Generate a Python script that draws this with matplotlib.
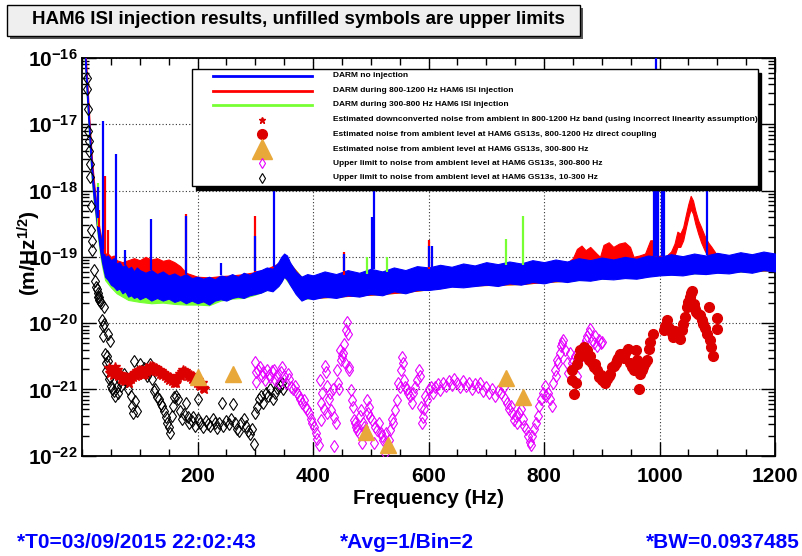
import numpy as np
import matplotlib
matplotlib.use("Agg")
import matplotlib.pyplot as plt
from matplotlib.patches import Rectangle
from matplotlib.lines import Line2D
from matplotlib.ticker import FixedLocator, MultipleLocator, LogLocator, NullFormatter, FuncFormatter

plt.rcParams['font.family'] = ['Liberation Sans', 'DejaVu Sans']
plt.rcParams['font.weight'] = 'bold'
plt.rcParams['mathtext.fontset'] = 'custom'
plt.rcParams['mathtext.rm'] = 'Liberation Sans:bold'
plt.rcParams['mathtext.it'] = 'Liberation Sans:bold'
plt.rcParams['mathtext.bf'] = 'Liberation Sans:bold'

# ---------------- data (log10 of amplitude, m/Hz^1/2) ----------------
# DARM spectra: (frequency Hz, upper envelope, lower envelope)
BLUE_BAND = [
    (4, -15.6, -15.8), (6, -16.0, -16.2), (8, -16.3, -16.5), (11, -16.75, -16.95),
    (14, -17.2, -17.4), (17, -17.6, -17.8), (20, -17.9, -18.1), (23, -18.1, -18.3),
    (26, -18.35, -18.55), (29, -18.55, -18.75), (32, -18.7, -18.95), (35, -18.85, -19.1),
    (40, -19.0, -19.3), (45, -18.98, -19.35), (50, -19.05, -19.42), (55, -19.02, -19.45),
    (60, -19.1, -19.5), (65, -19.08, -19.48), (70, -19.15, -19.55), (75, -19.12, -19.52),
    (80, -19.18, -19.6), (85, -19.15, -19.58), (90, -19.22, -19.62), (95, -19.16, -19.6),
    (100, -19.2, -19.64), (110, -19.24, -19.6), (120, -19.2, -19.66), (130, -19.26, -19.62),
    (140, -19.22, -19.66), (150, -19.28, -19.63), (160, -19.25, -19.68), (170, -19.3, -19.65),
    (180, -19.26, -19.7), (190, -19.32, -19.66), (200, -19.3, -19.7), (210, -19.33, -19.67),
    (220, -19.3, -19.72), (230, -19.34, -19.66), (240, -19.28, -19.64), (250, -19.3, -19.66),
    (260, -19.26, -19.62), (270, -19.3, -19.6), (280, -19.24, -19.62), (290, -19.27, -19.58),
    (300, -19.22, -19.56), (310, -19.2, -19.54), (320, -19.16, -19.5), (330, -19.18, -19.52),
    (340, -19.08, -19.44), (345, -19.0, -19.38), (350, -18.95, -19.3), (355, -18.98, -19.34),
    (360, -19.08, -19.42), (370, -19.22, -19.56), (380, -19.3, -19.66), (390, -19.26, -19.62),
    (400, -19.28, -19.64), (420, -19.22, -19.6), (440, -19.26, -19.62), (460, -19.2, -19.58),
    (480, -19.24, -19.6), (500, -19.18, -19.56), (520, -19.22, -19.58), (540, -19.16, -19.52),
    (560, -19.2, -19.55), (580, -19.14, -19.5), (600, -19.16, -19.5), (620, -19.12, -19.48),
    (640, -19.15, -19.45), (660, -19.1, -19.46), (680, -19.13, -19.44), (700, -19.08, -19.42),
    (720, -19.11, -19.44), (740, -19.07, -19.4), (760, -19.1, -19.42), (780, -19.05, -19.38),
    (800, -19.08, -19.4), (820, -19.04, -19.36), (840, -19.07, -19.38), (860, -19.02, -19.35),
    (880, -19.05, -19.36), (900, -19.01, -19.33), (920, -19.04, -19.34), (940, -19.0, -19.32),
    (960, -19.03, -19.33), (980, -18.98, -19.3), (1000, -19.0, -19.28), (1020, -18.96, -19.27),
    (1040, -18.99, -19.28), (1060, -18.95, -19.25), (1080, -18.98, -19.26), (1100, -18.94, -19.24),
    (1120, -18.97, -19.25), (1140, -18.93, -19.22), (1160, -18.96, -19.24), (1180, -18.92, -19.2),
    (1200, -18.95, -19.22),
]
RED_BAND = [
    (4, -15.5, -15.7), (6, -15.9, -16.1), (8, -16.2, -16.4), (11, -16.65, -16.85),
    (14, -17.1, -17.3), (17, -17.5, -17.7), (20, -17.8, -18.0), (23, -18.05, -18.25),
    (26, -18.3, -18.5), (29, -18.5, -18.7), (32, -18.65, -18.9), (35, -18.8, -19.05),
    (40, -18.95, -19.25), (45, -18.95, -19.3), (50, -19.0, -19.38), (55, -18.98, -19.4),
    (60, -19.05, -19.45), (70, -19.08, -19.5), (80, -19.05, -19.5), (90, -19.02, -19.52),
    (100, -19.05, -19.5), (110, -19.0, -19.5), (120, -19.04, -19.52), (130, -19.02, -19.5),
    (140, -19.06, -19.52), (150, -19.04, -19.55), (160, -19.08, -19.55), (170, -19.14, -19.6),
    (180, -19.24, -19.62), (200, -19.3, -19.66), (220, -19.31, -19.68), (240, -19.29, -19.62),
    (260, -19.28, -19.6), (280, -19.26, -19.58), (300, -19.23, -19.54), (320, -19.18, -19.48),
    (340, -19.1, -19.42), (350, -18.97, -19.28), (360, -19.1, -19.4), (380, -19.31, -19.62),
    (400, -19.3, -19.62), (440, -19.28, -19.6), (480, -19.26, -19.58), (520, -19.24, -19.56),
    (560, -19.22, -19.53), (600, -19.18, -19.49), (640, -19.17, -19.44), (680, -19.15, -19.43),
    (720, -19.13, -19.42), (760, -19.12, -19.41), (800, -19.1, -19.38), (840, -19.09, -19.36),
    (850, -19.02, -19.35), (857, -18.88, -19.33), (865, -18.83, -19.3), (872, -18.9, -19.32),
    (880, -18.85, -19.3), (891, -18.95, -19.3), (897, -19.0, -19.32), (903, -18.82, -19.3),
    (912, -18.78, -19.28), (920, -18.85, -19.3), (930, -18.8, -19.28), (940, -18.78, -19.28),
    (949, -18.85, -19.28), (955, -19.0, -19.28), (965, -18.98, -19.28), (975, -18.95, -19.26),
    (984, -18.75, -19.25), (990, -18.75, -19.25), (995, -18.98, -19.26), (1010, -19.0, -19.26),
    (1020, -18.92, -19.24), (1026, -18.8, -18.98), (1031, -18.62, -18.85), (1036, -18.65, -18.85),
    (1041, -18.55, -18.75), (1046, -18.35, -18.55), (1050, -18.2, -18.4), (1054, -18.08, -18.28),
    (1058, -18.15, -18.35), (1062, -18.3, -18.5), (1067, -18.45, -18.65), (1072, -18.55, -18.78),
    (1078, -18.68, -18.9), (1084, -18.78, -19.0), (1090, -18.85, -19.22), (1100, -18.98, -19.22),
    (1120, -19.0, -19.22), (1160, -18.99, -19.21), (1200, -18.98, -19.2),
]
GREEN_BAND = [
    (4, -15.7, -15.9), (6, -16.05, -16.25), (8, -16.35, -16.55), (11, -16.8, -17.0),
    (14, -17.25, -17.45), (17, -17.65, -17.85), (20, -17.95, -18.15), (23, -18.15, -18.35),
    (26, -18.4, -18.6), (29, -18.6, -18.8), (32, -18.75, -19.0), (35, -18.9, -19.15),
    (40, -19.05, -19.35), (50, -19.1, -19.46), (60, -19.15, -19.55), (70, -19.2, -19.6),
    (80, -19.22, -19.65), (100, -19.25, -19.68), (120, -19.26, -19.7), (140, -19.28, -19.69),
    (160, -19.3, -19.71), (180, -19.3, -19.72), (200, -19.33, -19.72), (220, -19.32, -19.73),
    (240, -19.3, -19.66), (260, -19.3, -19.63), (280, -19.28, -19.62), (300, -19.25, -19.57),
    (320, -19.2, -19.5), (340, -19.12, -19.44), (350, -19.0, -19.3), (360, -19.1, -19.42),
    (380, -19.3, -19.64), (400, -19.3, -19.62), (440, -19.28, -19.6), (480, -19.26, -19.58),
    (520, -19.24, -19.56), (560, -19.22, -19.53), (600, -19.18, -19.49), (640, -19.16, -19.44),
    (680, -19.14, -19.43), (720, -19.12, -19.42), (760, -19.12, -19.41), (800, -19.1, -19.38),
    (840, -19.08, -19.36), (880, -19.06, -19.34), (920, -19.05, -19.32), (960, -19.04, -19.31),
    (1000, -19.02, -19.27), (1040, -19.0, -19.26), (1080, -18.99, -19.24), (1120, -18.98, -19.23),
    (1160, -18.97, -19.22), (1200, -18.96, -19.2),
]
# narrow lines: (frequency Hz, peak log10)
BLUE_SPIKES = [(27, -17.95), (36, -16.95), (59, -17.45), (75, -18.9), (119, -18.43),
               (180, -18.38), (240, -19.1), (300, -18.68), (332, -17.5), (453, -18.95),
               (502, -18.4), (505, -17.5), (600, -18.83), (606, -18.83), (990, -17.4),
               (994, -15.9), (998, -17.4), (1004, -17.4), (1008, -17.4), (1082, -17.4)]
RED_SPIKES = [(30, -18.3), (40, -17.78), (45, -18.6), (180, -18.35), (300, -18.39),
              (453, -18.93), (600, -18.75)]
GREEN_SPIKES = [(28, -17.88), (493, -19.0), (528, -19.0), (734, -18.73), (764, -18.38)]

# Upper limits 10-300 Hz (black open diamonds)
BLACK_F = [8, 9, 10, 10, 12, 12, 13, 13, 15, 16, 17, 17, 20, 23, 24, 26, 27, 28, 29, 30,
           32, 33, 35, 36, 36, 38, 38, 40, 41, 42, 44, 45, 45, 47, 48, 48, 50, 52, 55, 58,
           60, 62, 66, 68, 72, 75, 78, 80, 84, 86, 88, 90, 92, 95, 100, 103, 107, 110, 113, 116,
           118, 121, 124, 127, 130, 133, 136, 139, 142, 145, 148, 150, 152, 155, 157, 160, 163, 166, 170, 173,
           176, 180, 183, 186, 190, 193, 196, 200, 201, 205, 210, 214, 218, 222, 226, 230, 234, 238, 242, 245,
           250, 254, 258, 262, 265, 268, 272, 276, 280, 284, 288, 291, 294, 298, 300, 303, 306, 310, 314, 318,
           322, 326, 330, 334, 338, 342, 346, 348]
BLACK_LOG = [-16.47, -16.3, -16.77, -17.1, -17.25, -17.4, -17.6, -17.8, -18.23, -18.6, -18.76, -18.9, -19.2, -19.36, -19.45, -19.49, -19.55, -19.6, -19.61, -19.65,
             -19.66, -19.7, -19.96, -20.05, -20.2, -19.76, -20.01, -20.47, -20.6, -20.72, -20.5, -20.17, -20.57, -20.85, -20.27, -20.82, -20.95, -21.0, -21.02, -21.1,
             -20.97, -21.05, -20.87, -20.95, -20.77, -20.85, -20.87, -21.0, -21.1, -21.25, -21.35, -20.57, -21.17, -21.32, -20.62, -20.72, -20.67, -20.75, -20.8, -20.7,
             -20.62, -20.85, -21.02, -21.0, -21.12, -21.15, -21.22, -21.25, -21.32, -21.42, -21.5, -21.57, -21.65, -21.4, -21.25, -21.12, -21.1, -21.15, -21.32, -21.45,
             -21.37, -21.2, -21.42, -21.5, -21.47, -21.42, -21.55, -21.45, -21.15, -21.5, -21.57, -21.48, -21.52, -21.55, -21.45, -21.5, -21.58, -21.5, -21.2, -21.55,
             -21.48, -21.52, -21.45, -21.22, -21.5, -21.6, -21.62, -21.5, -21.45, -21.55, -21.62, -21.67, -21.6, -21.82, -21.35, -21.27, -21.15, -21.1, -21.2, -21.05,
             -21.1, -21.0, -21.15, -21.05, -20.98, -20.95, -20.9, -21.0]

# Upper limits 300-800 Hz (magenta open diamonds)
MAG_F = [300, 301, 302, 305, 308, 311, 314, 317, 320, 323, 326, 329, 332, 335, 338, 341, 344, 347, 350, 353,
         356, 359, 362, 365, 368, 372, 375, 378, 381, 384, 387, 390, 393, 396, 399, 402, 405, 407, 410, 412,
         413, 414, 416, 419, 421, 422, 424, 425, 427, 430, 432, 434, 436, 437, 439, 441, 443, 445, 447, 448,
         450, 452, 453, 455, 457, 459, 460, 462, 463, 465, 467, 469, 471, 473, 475, 477, 479, 481, 483, 484,
         486, 488, 490, 493, 495, 497, 499, 502, 505, 508, 511, 514, 517, 520, 522, 525, 527, 529, 531, 534,
         537, 539, 542, 545, 548, 550, 552, 554, 556, 558, 560, 562, 565, 568, 571, 574, 577, 580, 583, 585,
         587, 588, 590, 592, 594, 597, 600, 604, 608, 612, 616, 620, 625, 630, 635, 640, 645, 650, 655, 660,
         665, 670, 675, 680, 685, 690, 695, 700, 705, 710, 715, 720, 725, 730, 733, 736, 739, 742, 745, 748,
         751, 754, 757, 760, 763, 766, 769, 772, 775, 777, 780, 783, 786, 789, 792, 795, 798, 801, 804, 807,
         810, 813, 816, 819, 821, 823, 825, 827, 829, 831, 833, 836, 839, 842, 845, 848, 851, 854, 857, 860,
         864, 868, 872, 875, 878, 880, 883, 886, 889, 892, 895, 898, 900]
MAG_LOG = [-20.59, -20.74, -20.89, -20.7, -20.66, -20.8, -20.74, -20.86, -20.7, -20.78, -20.82, -20.72, -20.7, -20.86, -20.78, -20.9, -20.74, -20.66, -20.8, -20.9,
           -20.76, -20.85, -20.96, -21.0, -20.95, -21.06, -21.1, -21.15, -21.2, -21.16, -21.26, -21.3, -21.36, -21.45, -21.51, -21.56, -21.66, -21.75, -21.84, -20.86,
           -21.2, -21.46, -21.05, -21.3, -20.64, -20.74, -20.95, -21.36, -21.15, -21.06, -21.31, -21.0, -21.86, -21.41, -21.51, -20.71, -20.9, -21.0, -20.41, -20.56,
           -20.5, -20.45, -20.31, -20.6, -20.1, -19.98, -20.16, -20.66, -20.71, -21.01, -21.16, -21.26, -21.46, -21.51, -21.56, -21.61, -21.66, -21.4, -21.31, -21.81,
           -21.5, -21.56, -21.61, -21.16, -21.36, -21.26, -21.41, -21.46, -21.81, -21.56, -21.61, -21.51, -21.66, -21.7, -21.76, -21.96, -21.66, -21.81, -21.76, -21.61,
           -21.45, -21.51, -21.31, -21.16, -20.9, -20.96, -20.71, -20.51, -20.6, -20.86, -20.96, -21.0, -21.06, -21.1, -21.2, -21.06, -20.96, -20.86, -20.7, -20.8,
           -21.26, -21.5, -21.41, -21.3, -21.1, -21.16, -21.0, -20.97, -21.06, -20.96, -20.92, -21.01, -20.9, -20.95, -20.87, -20.93, -20.85, -20.9, -20.96, -20.88,
           -20.95, -20.9, -21.0, -20.92, -20.97, -20.9, -21.02, -20.96, -21.06, -21.0, -21.1, -21.02, -21.06, -20.96, -21.15, -21.2, -21.3, -21.25, -21.36, -21.46,
           -21.4, -21.5, -21.35, -21.3, -21.45, -21.55, -21.6, -21.7, -21.8, -21.84, -21.7, -21.6, -21.5, -21.4, -21.25, -21.15, -21.05, -20.95, -21.1, -21.05,
           -21.15, -21.25, -20.9, -20.7, -20.8, -20.55, -20.6, -20.45, -20.35, -20.3, -20.26, -20.4, -20.6, -20.75, -20.45, -20.6, -20.7, -20.5, -20.8, -20.55,
           -20.4, -20.35, -20.25, -20.2, -20.15, -20.09, -20.25, -20.3, -20.2, -20.35, -20.25, -20.3, -20.28]

# Estimated downconverted noise, 800-1200 Hz band (red stars)
STAR_F = list(range(47, 212, 2))
STAR_LOG = [-20.68, -20.75, -20.7, -20.78, -20.72, -20.66, -20.74, -20.7, -20.8, -20.76, -20.84, -20.8, -20.86, -20.82, -20.88, -20.82, -20.85, -20.9, -20.8, -20.85,
            -20.78, -20.82, -20.75, -20.8, -20.72, -20.78, -20.7, -20.75, -20.7, -20.78, -20.72, -20.76, -20.68, -20.74, -20.7, -20.65, -20.72, -20.64, -20.7, -20.66,
            -20.72, -20.68, -20.74, -20.7, -20.76, -20.72, -20.78, -20.75, -20.8, -20.78, -20.83, -20.8, -20.86, -20.82, -20.88, -20.85, -20.9, -20.86, -20.9, -20.84,
            -20.8, -20.76, -20.8, -20.74, -20.7, -20.75, -20.72, -20.76, -20.8, -20.76, -20.82, -20.78, -20.84, -20.8, -20.86, -20.84, -20.9, -20.86, -20.92, -20.95,
            -20.9, -20.98, -21.0]

# Estimated noise, 800-1200 Hz direct coupling (red filled circles)
CIRC_F = [849, 849, 852, 855, 857, 860, 863, 866, 869, 872, 875, 878, 880, 883, 886, 889, 892, 895, 898, 901,
          904, 906, 909, 912, 915, 918, 921, 924, 926, 929, 932, 935, 938, 941, 945, 949, 952, 955, 958, 960,
          961, 964, 967, 970, 972, 975, 978, 981, 984, 988, 1008, 1010, 1013, 1016, 1018, 1021, 1024, 1027, 1030, 1033,
          1036, 1039, 1041, 1044, 1047, 1050, 1052, 1054, 1056, 1059, 1062, 1064, 1067, 1070, 1073, 1076, 1079, 1082, 1085, 1087,
          1090, 1093, 1099, 1099]
CIRC_LOG = [-20.71, -20.86, -21.07, -20.91, -20.61, -20.51, -20.41, -20.45, -20.36, -20.4, -20.4, -20.56, -20.5, -20.6, -20.66, -20.62, -20.71, -20.81, -20.78, -20.86,
            -20.88, -20.91, -20.84, -20.8, -20.76, -20.66, -20.64, -20.6, -20.56, -20.52, -20.46, -20.5, -20.52, -20.45, -20.39, -20.6, -20.66, -20.71, -20.62, -20.41,
            -20.55, -20.99, -20.76, -20.7, -20.66, -20.6, -20.56, -20.39, -20.29, -20.16, -20.1, -20.04, -19.96, -20.08, -20.1, -20.15, -20.21, -20.12, -20.18, -20.14,
            -20.24, -20.1, -20.01, -19.9, -19.76, -19.68, -19.61, -19.55, -19.51, -19.71, -19.78, -19.83, -19.86, -19.88, -19.95, -20.01, -20.08, -20.16, -19.76, -20.26,
            -20.36, -20.49, -19.93, -20.09]

# Estimated noise 300-800 Hz (orange triangles)
TRI_F = [200, 262, 492, 530, 735, 764]
TRI_LOG = [-20.81, -20.77, -21.64, -21.84, -20.83, -21.12]

# ---------------- colours ----------------
C_BLUE = '#0000ff'
C_RED = '#ff0000'
C_GREEN = '#77ff33'
C_CIRC = '#dd0000'
C_MAG = '#e600ff'
C_ORANGE = '#e9a83a'

fig = plt.figure(figsize=(8.02, 5.56), dpi=100)
ax = fig.add_axes([82 / 802, 1 - 455.7 / 556, 693 / 802, 397.7 / 556])
ax.set_xlim(0, 1200)
ax.set_yscale('log')
ax.set_ylim(1e-22, 1e-16)


def band(rows, color, z):
    f, hi, lo = (np.array(c, dtype=float) for c in zip(*rows))
    ax.fill_between(f, 10 ** lo, 10 ** hi, facecolor=color, edgecolor=color, lw=0.8, zorder=z)
    return f, hi


def spikes(rows, bf, bhi, color, z, lw=1.6):
    f, pk = (np.array(c, dtype=float) for c in zip(*rows))
    base = np.interp(f, bf, bhi)
    ax.vlines(f, 10 ** base, 10 ** pk, colors=color, lw=lw, zorder=z)


gf, ghi = band(GREEN_BAND, C_GREEN, 2)
rf, rhi = band(RED_BAND, C_RED, 3)
bf, bhi = band(BLUE_BAND, C_BLUE, 4)
spikes(GREEN_SPIKES, gf, ghi, C_GREEN, 5)
spikes(RED_SPIKES, rf, rhi, C_RED, 5)
spikes(BLUE_SPIKES, bf, bhi, C_BLUE, 6)

ax.plot(BLACK_F, 10 ** np.array(BLACK_LOG), ls='none', marker='d', ms=6, mfc='none',
        mec='black', mew=0.8, zorder=7)
ax.plot(MAG_F, 10 ** np.array(MAG_LOG), ls='none', marker='d', ms=6, mfc='none',
        mec=C_MAG, mew=0.8, zorder=7)
ax.plot(STAR_F, 10 ** np.array(STAR_LOG), ls='none', marker='*', ms=7, color=C_CIRC,
        mec=C_CIRC, zorder=8)
ax.plot(CIRC_F, 10 ** np.array(CIRC_LOG), ls='none', marker='o', ms=7, color=C_CIRC,
        mec=C_CIRC, zorder=8)
ax.plot(TRI_F, 10 ** np.array(TRI_LOG), ls='none', marker='^', ms=11, color=C_ORANGE,
        mec=C_ORANGE, zorder=9)

# ---------------- axes styling ----------------
ax.xaxis.set_major_locator(FixedLocator([200, 400, 600, 800, 1000, 1200]))
ax.xaxis.set_minor_locator(MultipleLocator(50))
ax.yaxis.set_major_locator(LogLocator(base=10, numticks=20))
ax.yaxis.set_minor_locator(LogLocator(base=10, subs=np.arange(2, 10), numticks=20))
ax.yaxis.set_minor_formatter(NullFormatter())
ax.yaxis.set_major_formatter(FuncFormatter(lambda v, p: r'$10^{%d}$' % round(np.log10(v))))
ax.tick_params(which='both', direction='in', top=True, right=True, labelsize=15)
ax.tick_params(which='major', length=10, width=1)
ax.tick_params(which='minor', length=5, width=1)
ax.tick_params(axis='x', pad=8)
ax.tick_params(axis='y', pad=3)
for lab in ax.get_xticklabels() + ax.get_yticklabels():
    lab.set_fontweight('bold')
ax.grid(True, which='major', ls=(0, (1, 2)), color='#333333', lw=0.8)
ax.set_axisbelow(True)
for s in ax.spines.values():
    s.set_linewidth(1.3)

# ---------------- legend (drawn as a box like the original) ----------------
lx0, ly0, lw_, lh = 0.159, 0.678, 0.816, 0.294
ax.add_patch(Rectangle((lx0 + 0.005, ly0 - 0.009), lw_, lh, transform=ax.transAxes,
                       fc='black', ec='black', zorder=20, clip_on=False))
ax.add_patch(Rectangle((lx0, ly0), lw_, lh, transform=ax.transAxes,
                       fc='white', ec='black', lw=1.0, zorder=21, clip_on=False))
LEG_LABELS = [
    'DARM no injection',
    'DARM during 800-1200 Hz HAM6 ISI injection',
    'DARM during 300-800 Hz HAM6 ISI injection',
    'Estimated downconverted noise from ambient in 800-1200 Hz band (using incorrect linearity assumption)',
    'Estimated noise from ambient level at HAM6 GS13s, 800-1200 Hz direct coupling',
    'Estimated noise from ambient level at HAM6 GS13s, 300-800 Hz',
    'Upper limit to noise from ambient level at HAM6 GS13s, 300-800 Hz',
    'Upper limit to noise from ambient level at HAM6 GS13s, 10-300 Hz',
]
rows_y = [0.9555, 0.9178, 0.8826, 0.8449, 0.8088, 0.7711, 0.7359, 0.6990]
styles = [
    dict(color=C_BLUE, lw=2),
    dict(color=C_RED, lw=2),
    dict(color=C_GREEN, lw=2),
    dict(ls='none', marker='*', ms=5, color=C_CIRC),
    dict(ls='none', marker='o', ms=7, color=C_CIRC),
    dict(ls='none', marker='^', ms=15, color=C_ORANGE),
    dict(ls='none', marker='d', ms=5, mfc='none', mec=C_MAG, mew=0.8),
    dict(ls='none', marker='d', ms=5, mfc='none', mec='black', mew=0.8),
]
for lab, yy, st in zip(LEG_LABELS, rows_y, styles):
    if st.get('ls') == 'none':
        ln = Line2D([0.2597], [yy], transform=ax.transAxes, zorder=22, **st)
    else:
        ln = Line2D([0.189, 0.332], [yy, yy], transform=ax.transAxes, zorder=22, **st)
    ln.set_clip_on(False)
    ax.add_line(ln)
    ax.text(0.3622, yy, lab, transform=ax.transAxes, fontsize=6, fontweight='bold',
            va='center', ha='left', zorder=23)

# ---------------- title box & texts ----------------
fig.patches.append(Rectangle((10 / 802, 1 - 39 / 556), 573 / 802, 31 / 556,
                             transform=fig.transFigure, fc='#555555', ec='none', zorder=0))
fig.patches.append(Rectangle((7 / 802, 1 - 36 / 556), 573 / 802, 31 / 556,
                             transform=fig.transFigure, fc='#efefef', ec='black', lw=1, zorder=1))
fig.text(298 / 802, 1 - 20 / 556, 'HAM6 ISI injection results, unfilled symbols are upper limits',
         ha='center', va='center', fontsize=13.5, fontweight='bold', zorder=2)

fig.text(29 / 802, 1 - 253 / 556, r'(m/Hz$^{1/2}$)', rotation=90, ha='center', va='center',
         fontsize=15, fontweight='bold')
fig.text(428.5 / 802, 1 - 499 / 556, 'Frequency (Hz)', ha='center', va='center',
         fontsize=15, fontweight='bold')

fig.text(17 / 802, 1 - 543 / 556, '*T0=03/09/2015 22:02:43', ha='left', va='center',
         fontsize=15, fontweight='bold', color=C_BLUE)
fig.text(340 / 802, 1 - 543 / 556, '*Avg=1/Bin=2', ha='left', va='center',
         fontsize=15, fontweight='bold', color=C_BLUE)
fig.text(800 / 802, 1 - 543 / 556, '*BW=0.0937485', ha='right', va='center',
         fontsize=15, fontweight='bold', color=C_BLUE)

fig.savefig('out.png', dpi=100)
